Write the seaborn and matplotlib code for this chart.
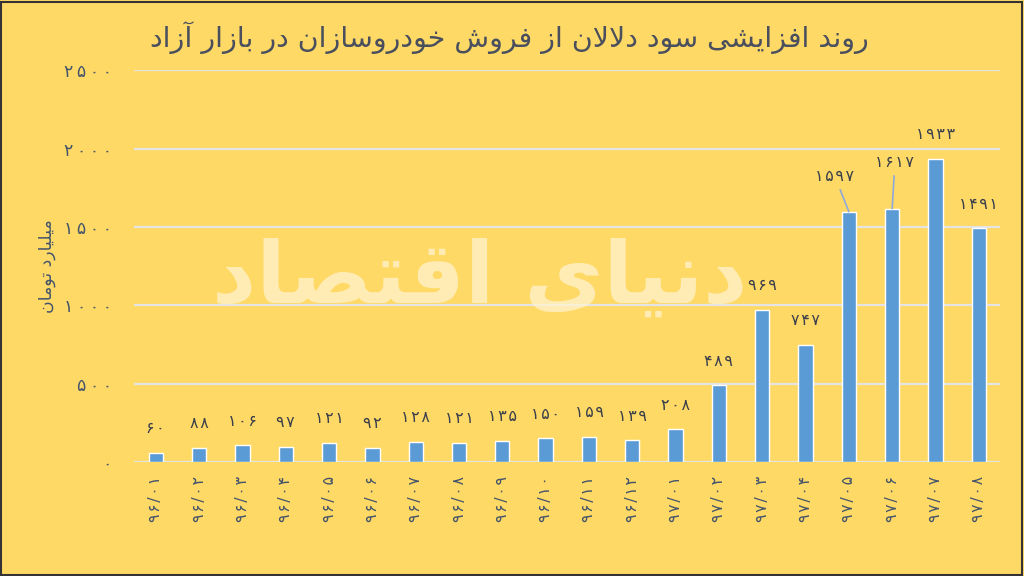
import matplotlib
matplotlib.use("Agg")
import matplotlib.pyplot as plt
import seaborn as sns
import pandas as pd
from matplotlib.patches import Rectangle

# ---------------- data ----------------
months = ["۹۶/۰۱", "۹۶/۰۲", "۹۶/۰۳", "۹۶/۰۴", "۹۶/۰۵", "۹۶/۰۶", "۹۶/۰۷", "۹۶/۰۸",
          "۹۶/۰۹", "۹۶/۱۰", "۹۶/۱۱", "۹۶/۱۲", "۹۷/۰۱", "۹۷/۰۲", "۹۷/۰۳", "۹۷/۰۴",
          "۹۷/۰۵", "۹۷/۰۶", "۹۷/۰۷", "۹۷/۰۸"]
profit = [60, 88, 106, 97, 121, 92, 128, 121, 135, 150, 159, 139, 208, 489, 969, 747,
          1597, 1617, 1933, 1491]
y_ticks = [0, 500, 1000, 1500, 2000, 2500]
title_text = "روند افزایشی سود دلالان از فروش خودروسازان در بازار آزاد"
ylabel_text = "میلیارد تومان"
watermark_text = "دنیای اقتصاد"

# ---------------- simple Persian shaping ----------------
FORMS = {
    'ا': ('\uFE8D', '\uFE8E', None, None),
    'آ': ('\uFE81', '\uFE82', None, None),
    'ب': ('\uFE8F', '\uFE90', '\uFE91', '\uFE92'),
    'ت': ('\uFE95', '\uFE96', '\uFE97', '\uFE98'),
    'خ': ('\uFEA5', '\uFEA6', '\uFEA7', '\uFEA8'),
    'د': ('\uFEA9', '\uFEAA', None, None),
    'ر': ('\uFEAD', '\uFEAE', None, None),
    'ز': ('\uFEAF', '\uFEB0', None, None),
    'س': ('\uFEB1', '\uFEB2', '\uFEB3', '\uFEB4'),
    'ش': ('\uFEB5', '\uFEB6', '\uFEB7', '\uFEB8'),
    'ص': ('\uFEB9', '\uFEBA', '\uFEBB', '\uFEBC'),
    'ف': ('\uFED1', '\uFED2', '\uFED3', '\uFED4'),
    'ق': ('\uFED5', '\uFED6', '\uFED7', '\uFED8'),
    'ل': ('\uFEDD', '\uFEDE', '\uFEDF', '\uFEE0'),
    'م': ('\uFEE1', '\uFEE2', '\uFEE3', '\uFEE4'),
    'ن': ('\uFEE5', '\uFEE6', '\uFEE7', '\uFEE8'),
    'و': ('\uFEED', '\uFEEE', None, None),
    'ی': ('\uFBFC', '\uFBFD', '\uFBFE', '\uFBFF'),
}


def shape(text):
    out = []
    chars = list(text)
    i = 0
    prev_joins = False
    while i < len(chars):
        c = chars[i]
        if c not in FORMS:
            out.append(c)
            prev_joins = False
            i += 1
            continue
        if c == 'ل' and i + 1 < len(chars) and chars[i + 1] == 'ا':
            out.append('\uFEFC' if prev_joins else '\uFEFB')
            prev_joins = False
            i += 2
            continue
        f = FORMS[c]
        nxt = chars[i + 1] if i + 1 < len(chars) else None
        joins_next = f[2] is not None and nxt in FORMS
        if prev_joins and joins_next:
            g = f[3]
        elif prev_joins:
            g = f[1]
        elif joins_next:
            g = f[2]
        else:
            g = f[0]
        out.append(g)
        prev_joins = f[2] is not None
        i += 1
    return ''.join(out)[::-1]


FA = str.maketrans("0123456789", "۰۱۲۳۴۵۶۷۸۹")


def fa(n, sep="\u200a"):
    return sep.join(str(n).translate(FA))


def spaced(s, sep="\u200a"):
    return sep.join(s)


# ---------------- style ----------------
BG = "#FFD966"
BAR = "#5B9BD5"
TXT = "#44546A"
GRID = "#E4E4E4"

sns.set_theme(style="white")
plt.rcParams['font.family'] = ['DejaVu Sans']

df = pd.DataFrame({"month": months, "profit": profit})

fig = plt.figure(figsize=(10.24, 5.76), dpi=100, facecolor=BG)
ax = fig.add_axes([0.131, 0.198, 0.846, 0.680])
ax.set_facecolor(BG)

sns.barplot(data=df, x="month", y="profit", color=BAR, width=0.33, ax=ax,
            saturation=1, zorder=3)

ax.set_ylim(0, 2500)
ax.set_yticks(y_ticks)
ax.set_yticklabels([fa(v, "\u2009") for v in y_ticks], fontsize=12.5, color=TXT)
ax.yaxis.grid(True, color=GRID, linewidth=1.6, zorder=0)
ax.set_axisbelow(True)
ax.tick_params(axis='y', length=0, pad=16)
ax.tick_params(axis='x', length=0, pad=10)
ax.set_xticks(range(len(months)))
ax.set_xticklabels([spaced(m) for m in months], rotation=90, fontsize=11.5, color=TXT)
ax.set_xlabel("")
ax.set_ylabel(shape(ylabel_text), fontsize=12.5, color=TXT, labelpad=6)
for s in ax.spines.values():
    s.set_visible(False)

# watermark (over bars)
fig.text(0.468, 0.515, shape(watermark_text), fontsize=62, fontweight="bold",
         color="#FFF3CF", alpha=0.75, ha="center", va="center", zorder=4)

# data labels (two labels carry leader lines, as in the original)
special = {16: (-10, 20), 17: (2, 28)}
for i, v in enumerate(profit):
    if i in special:
        dx, dy = special[i]
        ax.annotate(fa(v), (i, v), xytext=(dx, dy), textcoords="offset points",
                    ha="center", va="bottom", fontsize=11.5, color="#3A3F4B", zorder=6,
                    arrowprops=dict(arrowstyle="-", color="#8EA9DB", lw=1.2,
                                    shrinkA=2, shrinkB=0))
    else:
        ax.annotate(fa(v), (i, v), xytext=(0, 12), textcoords="offset points",
                    ha="center", va="bottom", fontsize=11.5, color="#3A3F4B", zorder=6)

fig.text(0.497, 0.935, shape(title_text), fontsize=20.5,
         color="#4A4F5E", ha="center", va="center")

fig.patches.append(Rectangle((0.001, 0.002), 0.997, 0.995, transform=fig.transFigure,
                             fill=False, edgecolor="#333333", linewidth=1.5))

fig.savefig("out.png", dpi=100, facecolor=BG)
